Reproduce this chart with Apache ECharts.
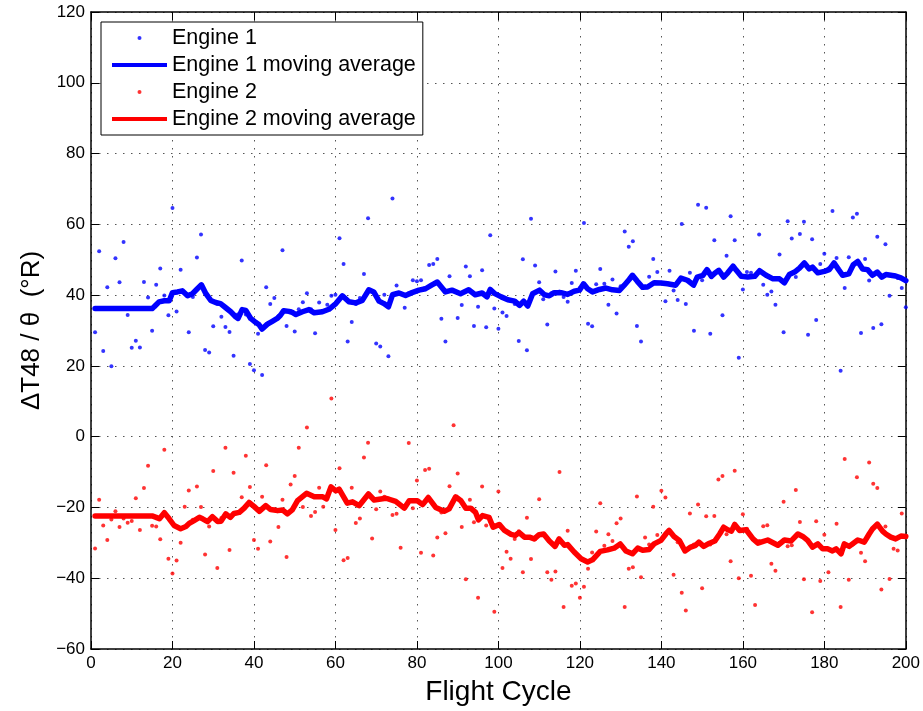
<!DOCTYPE html>
<html>
<head>
<meta charset="utf-8">
<script src="https://cdn.jsdelivr.net/npm/echarts@6/dist/echarts.min.js"></script>
<style>
html,body{margin:0;padding:0;background:#fff;}
#chart{width:923px;height:711px;}
</style>
</head>
<body>
<div id="chart"></div>
<script>
// ---- data ----
const xTicks = [0, 20, 40, 60, 80, 100, 120, 140, 160, 180, 200];
const yTicks = [-60, -40, -20, 0, 20, 40, 60, 80, 100, 120];
const seriesNames = ['Engine 1', 'Engine 1 moving average', 'Engine 2', 'Engine 2 moving average'];

// Engine 1 raw values, flight cycles 1..200
const engine1Values = [
29.5,52.4,24.2,42.2,19.9,50.4,43.6,55.0,34.4,25.1,
27.1,25.2,43.7,39.3,29.9,42.9,47.5,39.9,34.3,64.6,
35.4,47.2,40.5,29.5,39.5,50.6,57.1,24.5,23.8,31.2,
37.5,33.9,31.0,29.6,22.9,34.5,49.8,34.5,20.5,18.8,
29.1,17.4,42.2,37.5,39.2,34.0,52.7,31.3,35.5,29.7,
36.0,38.0,40.5,36.0,29.2,37.9,35.5,37.3,39.8,40.1,
56.1,48.8,26.9,32.4,37.5,39.2,46.0,61.7,41.0,26.3,
25.5,40.1,22.7,67.3,42.7,40.5,36.4,40.5,44.2,43.9,
44.2,42.0,48.5,48.8,50.2,33.3,26.9,45.3,41.2,33.5,
37.2,48.1,45.3,31.3,36.7,47.0,30.9,56.9,36.2,30.5,
35.1,34.1,38.5,37.5,27.0,50.1,24.4,61.6,48.4,43.6,
38.8,31.7,40.5,46.7,41.0,39.5,38.1,43.4,46.9,42.0,
60.4,31.9,31.2,43.1,47.4,43.2,37.3,44.4,34.8,42.5,
58.0,53.7,55.2,31.3,26.9,42.5,45.2,50.2,46.5,43.5,
38.3,46.9,41.3,38.6,60.1,37.5,46.3,29.9,65.5,44.2,
64.7,29.1,55.5,46.5,34.3,51.1,62.3,55.5,22.3,41.6,
46.5,46.3,45.5,57.1,42.9,40.1,41.0,37.3,51.5,29.5,
60.9,56.0,45.1,57.3,60.7,28.8,55.8,33.0,48.8,51.7,
47.5,63.8,50.5,18.6,42.0,50.7,61.9,63.0,29.3,50.2,
44.1,30.7,56.5,31.8,54.4,39.8,45.5,44.8,42.0,36.6
];

// Engine 2 raw values, flight cycles 1..200
const engine2Values = [
-31.6,-17.8,-25.1,-29.2,-23.4,-21.1,-25.5,-23.1,-24.3,-23.8,
-17.4,-26.4,-14.5,-8.2,-25.2,-25.4,-29.0,-3.7,-34.5,-38.7,
-35.0,-30.0,-19.8,-15.2,-23.5,-14.1,-19.9,-33.3,-25.4,-9.7,
-37.1,-23.0,-3.1,-32.0,-10.2,-21.5,-17.1,-5.4,-14.2,-29.2,
-31.7,-17.0,-8.1,-29.6,-20.5,-25.5,-17.8,-34.0,-13.5,-11.1,
-3.1,-19.9,2.6,-22.4,-21.3,-14.4,-19.8,-17.0,10.8,-26.4,
-8.9,-34.9,-34.3,-14.4,-24.4,-23.1,-5.9,-1.7,-28.8,-20.5,
-15.5,-17.0,-17.5,-22.1,-21.8,-31.4,-19.5,-1.8,-20.2,-12.4,
-32.8,-9.4,-9.1,-33.6,-28.5,-21.4,-27.3,-14.0,3.2,-10.4,
-25.5,-40.3,-17.8,-24.2,-45.5,-14.1,-25.1,-24.0,-49.5,-15.5,
-37.1,-32.5,-34.5,-28.9,-26.7,-38.3,-22.9,-34.6,-29.0,-17.7,
-27.5,-38.3,-40.4,-38.1,-10.0,-48.1,-26.6,-42.1,-41.5,-45.5,
-42.4,-37.3,-32.7,-26.8,-18.8,-30.8,-27.6,-29.5,-24.5,-23.1,
-48.1,-37.3,-36.9,-16.9,-39.7,-28.5,-30.5,-19.8,-27.8,-15.3,
-17.2,-26.5,-39.0,-29.8,-44.1,-49.1,-21.7,-30.5,-19.2,-42.8,
-22.5,-30.5,-22.4,-12.1,-11.1,-27.6,-35.2,-9.6,-40.0,-21.9,
-26.0,-39.3,-47.6,-29.5,-25.3,-25.0,-35.9,-37.9,-30.0,-18.4,
-31.0,-30.7,-15.1,-24.1,-40.3,-29.5,-49.6,-23.9,-40.8,-27.7,
-38.3,-32.0,-24.6,-48.1,-6.3,-40.4,-30.5,-11.5,-32.8,-35.2,
-7.3,-13.3,-14.5,-43.2,-25.4,-40.2,-31.7,-32.2,-21.7,-28.2
];

// Moving averages as [flight cycle, value]
const engine1Avg = [
[1,36.2],[15,36.2],[15.5,36.7],[16.7,38.1],[18,38.4],[19.2,38.4],[20,40.7],[21.2,40.9],[22.4,41.2],[23.7,39.8],
[24.9,40.4],[26.1,41.8],[27.1,42.9],[28.2,40.4],[29.4,38.5],[30.6,37.9],[31.8,37.6],[33,36.5],[34.3,35.3],[35.5,33.9],
[36.1,33.4],[37.1,35.9],[38,35.7],[39.2,33.4],[40.4,32.3],[41.2,31.7],[42,30.4],[43.3,31.8],[44.5,32.6],[45.7,33.4],
[46.5,34.3],[47.3,35.6],[48.6,35.4],[49.4,35.1],[50.3,34.5],[51.9,35.3],[53.5,35.9],[54.8,35.0],[56.8,35.3],[58.4,36.0],
[60.1,37.6],[61.7,39.8],[63.3,38.1],[65,37.8],[66.6,38.5],[68.2,41.5],[69.4,40.9],[70.7,38.3],[71.9,37.6],[73,36.7],
[74,40.1],[75.6,40.6],[77.2,39.9],[78.8,40.7],[80.5,41.4],[82.1,41.8],[83.7,42.9],[85,43.7],[85.8,42.6],[87,40.9],
[88.6,41.4],[90.7,40.4],[92.7,41.5],[94.3,40.1],[96,40.6],[97.2,39.5],[98,41.6],[99,40.5],[100.7,39.5],[102.3,38.7],
[104,38.3],[105.2,37.1],[106.2,38.3],[107.2,36.9],[108.4,40.4],[110.1,41.4],[111.3,40.1],[112.5,39.8],[113.7,40.7],[115.4,40.7],
[117,40.2],[118.6,41.1],[119.9,41.4],[120.9,43.2],[121.9,41.8],[123.1,40.9],[124.8,41.6],[126.4,42.0],[128,41.5],[129.7,41.3],
[130.9,42.8],[132.1,44.4],[132.9,45.6],[134.1,43.9],[135.4,42.2],[136.6,42.3],[138.2,43.5],[139.9,43.4],[141.5,43.2],[143.5,42.8],
[144.8,44.8],[146.4,44.2],[147.9,42.8],[148.8,45.1],[150.2,45.6],[151.2,47.2],[152.3,45.3],[153.1,46.2],[154.1,47.0],[155.3,45.1],
[156.3,46.3],[157.6,48.2],[158.4,47.0],[159.6,45.3],[161.2,45.1],[162.9,45.3],[164.1,46.9],[165.7,45.6],[167.4,44.6],[169,44.6],
[170.2,43.5],[171.4,45.8],[172.7,46.5],[173.9,47.6],[175.1,49.1],[176.3,47.4],[177.1,47.9],[178.4,46.3],[180,46.7],[181.2,47.2],
[182.4,49.1],[183.5,47.2],[184.5,45.6],[186,46.0],[187.1,48.6],[188.2,49.5],[189.4,47.4],[190.6,47.2],[191.8,45.6],[193,46.5],
[194.1,45.1],[195.1,45.8],[196.3,45.6],[197.5,45.4],[198.8,44.9],[200,44.1]
];

const engine2Avg = [
[1,-22.4],[15,-22.4],[16,-22.8],[16.8,-23.2],[17.2,-23.4],[18,-21.5],[19.2,-23.2],[20.4,-25.1],[22,-26.0],[23.3,-25.4],
[24.1,-24.5],[25.3,-23.7],[26.6,-22.8],[27.4,-23.2],[28.6,-24.0],[29.8,-22.6],[31.1,-24.0],[31.9,-23.9],[33.1,-21.8],[34.2,-22.8],
[35.1,-21.7],[36.4,-21.4],[37.6,-20.2],[38.8,-18.6],[40,-19.7],[41.3,-21.1],[42.9,-19.5],[44.1,-20.6],[45.8,-20.9],[47,-20.7],
[48.2,-21.8],[49.4,-20.7],[50.7,-18.1],[51.1,-18.3],[52.9,-16.0],[54.8,-17.0],[56.9,-17.0],[57.8,-17.6],[58.9,-14.2],[60.1,-15.3],
[60.9,-14.8],[62.9,-18.8],[64.2,-18.4],[65.8,-19.5],[68.1,-16.2],[69.5,-17.9],[72.4,-17.4],[74.8,-18.3],[76.9,-20.2],[78.1,-18.1],
[80.1,-18.1],[81.4,-19.2],[82.8,-17.2],[84.6,-20.0],[86.7,-21.1],[87.9,-20.4],[89.5,-17.0],[90.8,-18.1],[92,-20.2],[93.2,-20.2],
[94.4,-21.4],[95.1,-23.5],[96.1,-22.3],[97.7,-22.8],[98.7,-25.6],[100.2,-24.8],[101.5,-26.5],[103.1,-27.6],[104.1,-27.9],[105.1,-27.1],
[106.4,-28.4],[107.6,-28.4],[108.8,-28.9],[110,-27.7],[111.1,-27.5],[112.5,-29.5],[113.9,-31.0],[114.9,-28.9],[116.2,-30.7],[117,-30.5],
[118.6,-32.6],[120.3,-34.5],[121.9,-35.4],[123.1,-34.8],[125,-32.4],[126.8,-32.0],[128.4,-31.5],[129.9,-30.3],[131.3,-32.3],[132.9,-33.1],
[134.2,-31.5],[135.4,-32.1],[137,-31.9],[138.2,-30.3],[139.9,-29.3],[141.1,-27.5],[141.9,-26.5],[143.1,-28.2],[144.4,-29.3],[145.8,-32.3],
[147.2,-31.2],[148.4,-30.7],[149.2,-29.8],[150.4,-31.0],[151.8,-30.1],[153.1,-29.5],[154.3,-27.5],[155.3,-25.6],[156.3,-26.3],[157.2,-26.7],
[158,-24.8],[159.2,-26.5],[160.8,-26.3],[162.5,-28.9],[163.7,-30.1],[166.1,-29.2],[168.6,-30.7],[170.2,-29.2],[171.8,-29.5],[173.5,-27.5],
[174.7,-28.2],[175.9,-29.3],[177.1,-31.2],[178.4,-30.3],[179.6,-31.7],[180.8,-31.7],[182,-32.3],[182.9,-31.7],[184.1,-33.1],[184.9,-30.3],
[186.1,-31.0],[188.2,-29.2],[189.8,-29.8],[191,-27.5],[191.8,-26.1],[193,-24.7],[194.3,-26.7],[195.1,-27.5],[196.3,-28.4],[197.5,-28.9],
[198.8,-28.1],[200,-28.2]
];

// ---- chart ----
const FONT = 'Liberation Sans, Arial, Helvetica, sans-serif';
const BLUE = '#0000ff';
const RED = '#ff0000';
const fmtMinus = v => String(v).replace('-', '\u2212');

const toPoints = vals => vals.map((v, i) => [i + 1, v]);

const chart = echarts.init(document.getElementById('chart'), null, {renderer: 'canvas'});

const axisCommon = {
  type: 'value',
  axisLine: {show: true, onZero: false, lineStyle: {color: '#000', width: 1.5}},
  axisTick: {show: true, inside: true, length: 8, lineStyle: {color: '#000', width: 1}},
  axisLabel: {show: false},
  splitLine: {show: false}
};

chart.setOption({
  animation: false,
  backgroundColor: '#fff',
  grid: {left: 91, right: 16, top: 12, bottom: 59, containLabel: false},
  legend: {
    left: 101, top: 22, orient: 'vertical',
    itemWidth: 55, itemHeight: 4, itemGap: 5,
    padding: [5, 7, 5, 11],
    borderColor: '#000', borderWidth: 1, backgroundColor: '#fff',
    textStyle: {fontFamily: FONT, fontSize: 21.5, color: '#000'},
    selectedMode: false,
    data: [
      {name: seriesNames[0], icon: 'circle'},
      {name: seriesNames[1], icon: 'rect'},
      {name: seriesNames[2], icon: 'circle'},
      {name: seriesNames[3], icon: 'rect'}
    ]
  },
  xAxis: [
    Object.assign({}, axisCommon, {
      position: 'bottom', min: xTicks[0], max: xTicks[xTicks.length - 1], interval: 20,
      axisLabel: {show: true, margin: 6, fontFamily: FONT, fontSize: 17, color: '#000', formatter: fmtMinus},
      splitLine: {show: true, lineStyle: {color: '#555', width: 1, type: [1.5, 6.5]}},
      name: 'Flight Cycle', nameLocation: 'middle', nameGap: 29,
      nameTextStyle: {fontFamily: FONT, fontSize: 28, color: '#000'}
    }),
    Object.assign({}, axisCommon, {
      position: 'top', min: xTicks[0], max: xTicks[xTicks.length - 1], interval: 20
    })
  ],
  yAxis: [
    Object.assign({}, axisCommon, {
      position: 'left', min: yTicks[0], max: yTicks[yTicks.length - 1], interval: 20,
      axisLabel: {show: true, margin: 6, fontFamily: FONT, fontSize: 17, color: '#000', formatter: fmtMinus},
      splitLine: {show: true, lineStyle: {color: '#555', width: 1, type: [1.5, 6.5]}},
      name: '\u0394T48 / \u03b8  (\u00b0R)', nameLocation: 'middle', nameGap: 46,
      nameTextStyle: {fontFamily: FONT, fontSize: 26, color: '#000'}
    }),
    Object.assign({}, axisCommon, {
      position: 'right', min: yTicks[0], max: yTicks[yTicks.length - 1], interval: 20
    })
  ],
  series: [
    {
      name: seriesNames[0], type: 'scatter', xAxisIndex: 0, yAxisIndex: 0,
      data: toPoints(engine1Values), symbol: 'circle', symbolSize: 4,
      itemStyle: {color: BLUE}, silent: true
    },
    {
      name: seriesNames[1], type: 'line', xAxisIndex: 0, yAxisIndex: 0,
      data: engine1Avg, showSymbol: false, symbol: 'none',
      itemStyle: {color: BLUE},
      lineStyle: {color: BLUE, width: 5.5, cap: 'round', join: 'round'}, silent: true
    },
    {
      name: seriesNames[2], type: 'scatter', xAxisIndex: 0, yAxisIndex: 0,
      data: toPoints(engine2Values), symbol: 'circle', symbolSize: 4,
      itemStyle: {color: RED}, silent: true
    },
    {
      name: seriesNames[3], type: 'line', xAxisIndex: 0, yAxisIndex: 0,
      data: engine2Avg, showSymbol: false, symbol: 'none',
      itemStyle: {color: RED},
      lineStyle: {color: RED, width: 5.5, cap: 'round', join: 'round'}, silent: true
    }
  ]
});
</script>
</body>
</html>
